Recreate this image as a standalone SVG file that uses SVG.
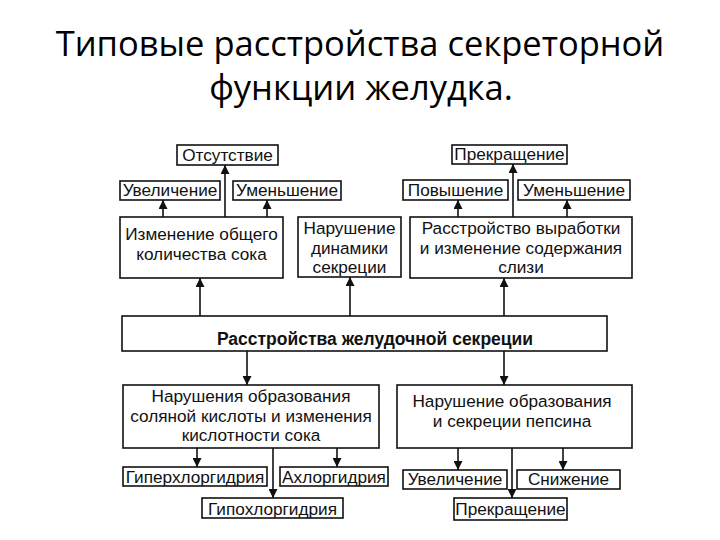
<svg xmlns="http://www.w3.org/2000/svg" width="720" height="540" viewBox="0 0 720 540">
<style>
.box{fill:#fff;stroke:#111;stroke-width:1.6}
.t{font-family:"Liberation Sans",Arial,sans-serif;font-size:17.2px;fill:#111;text-anchor:middle}
.b{font-weight:bold;font-size:17.5px}
.title{font-family:"Open Sans","Noto Sans",sans-serif;font-size:34.5px;fill:#000;text-anchor:middle}
.c{stroke:#111;stroke-width:1.6;fill:none;marker-end:url(#ah)}
</style>
<defs>
<marker id="ah" viewBox="0 0 10 10" refX="10" refY="5" markerWidth="9" markerHeight="9" markerUnits="userSpaceOnUse" orient="auto">
<path d="M0,0 L10,5 L0,10 Z" fill="#111"/>
</marker>
</defs>
<rect width="720" height="540" fill="#fff"/>
<g id="title">
<text class="title" x="360" y="56">Типовые расстройства секреторной</text>
<text class="title" x="361" y="100">функции желудка.</text>
</g>

<g id="otsutstvie"><rect class="box" x="177" y="145" width="101" height="20"/><text class="t" x="227.5" y="161">Отсутствие</text></g>
<g id="uvelichenie1"><rect class="box" x="120" y="181" width="100" height="19"/><text class="t" x="170" y="196">Увеличение</text></g>
<g id="umenshenie1"><rect class="box" x="233" y="181" width="108" height="19"/><text class="t" x="287" y="196">Уменьшение</text></g>
<g id="izmenenie"><rect class="box" x="120" y="217" width="163" height="61"/><text class="t" x="201.5" y="240">Изменение общего</text><text class="t" x="201.5" y="260">количества сока</text></g>
<g id="dinamika"><rect class="box" x="298" y="217" width="103" height="60"/><text class="t" x="349.5" y="234">Нарушение</text><text class="t" x="349.5" y="253.5">динамики</text><text class="t" x="349.5" y="273">секреции</text></g>
<g id="prekrashchenie1"><rect class="box" x="452" y="145" width="115" height="19"/><text class="t" x="509.5" y="160">Прекращение</text></g>
<g id="povyshenie"><rect class="box" x="403" y="180" width="105" height="20"/><text class="t" x="455.5" y="196">Повышение</text></g>
<g id="umenshenie2"><rect class="box" x="518" y="180" width="112" height="20"/><text class="t" x="574" y="196">Уменьшение</text></g>
<g id="slizi"><rect class="box" x="410" y="217" width="222" height="61"/><text class="t" x="521" y="234">Расстройство выработки</text><text class="t" x="521" y="253.5">и изменение содержания</text><text class="t" x="521" y="273">слизи</text></g>

<g id="main"><rect class="box" x="122" y="316" width="485" height="35"/><text class="t b" x="375" y="345">Расстройства желудочной секреции</text></g>

<g id="hcl"><rect class="box" x="123" y="385" width="256" height="63"/><text class="t" x="251" y="402">Нарушения образования</text><text class="t" x="251" y="421.5">соляной кислоты и изменения</text><text class="t" x="251" y="441">кислотности сока</text></g>
<g id="pepsin"><rect class="box" x="397" y="385" width="235" height="63"/><text class="t" x="512" y="407">Нарушение образования</text><text class="t" x="512" y="427">и секреции пепсина</text></g>
<g id="giper"><rect class="box" x="123" y="467" width="144" height="19"/><text class="t" x="195" y="483">Гиперхлоргидрия</text></g>
<g id="akhlor"><rect class="box" x="280" y="467" width="108" height="19"/><text class="t" x="334" y="483">Ахлоргидрия</text></g>
<g id="gipo"><rect class="box" x="202" y="498" width="141" height="20"/><text class="t" x="272.5" y="515">Гипохлоргидрия</text></g>
<g id="uvelichenie2"><rect class="box" x="403" y="470" width="104" height="19"/><text class="t" x="455" y="485">Увеличение</text></g>
<g id="snizhenie"><rect class="box" x="517" y="470" width="103" height="19"/><text class="t" x="568.5" y="485">Снижение</text></g>
<g id="prekrashchenie2"><rect class="box" x="454" y="498" width="113" height="22"/><text class="t" x="510.5" y="515">Прекращение</text></g>

<g id="connectors">
<line class="c" x1="225" y1="217" x2="225" y2="165"/>
<line class="c" x1="163" y1="217" x2="163" y2="200"/>
<line class="c" x1="267" y1="217" x2="267" y2="200"/>
<line class="c" x1="513" y1="217" x2="513" y2="164"/>
<line class="c" x1="458" y1="217" x2="458" y2="200"/>
<line class="c" x1="567" y1="217" x2="567" y2="200"/>
<line class="c" x1="200" y1="316" x2="200" y2="278"/>
<line class="c" x1="350" y1="316" x2="350" y2="277"/>
<line class="c" x1="504" y1="316" x2="504" y2="278"/>
<line class="c" x1="247" y1="351" x2="247" y2="385"/>
<line class="c" x1="504" y1="351" x2="504" y2="385"/>
<line class="c" x1="197" y1="448" x2="197" y2="467"/>
<line class="c" x1="273" y1="448" x2="273" y2="498"/>
<line class="c" x1="337" y1="448" x2="337" y2="467"/>
<line class="c" x1="458" y1="448" x2="458" y2="470"/>
<line class="c" x1="512" y1="448" x2="512" y2="498"/>
<line class="c" x1="563" y1="448" x2="563" y2="470"/>
</g>
</svg>
